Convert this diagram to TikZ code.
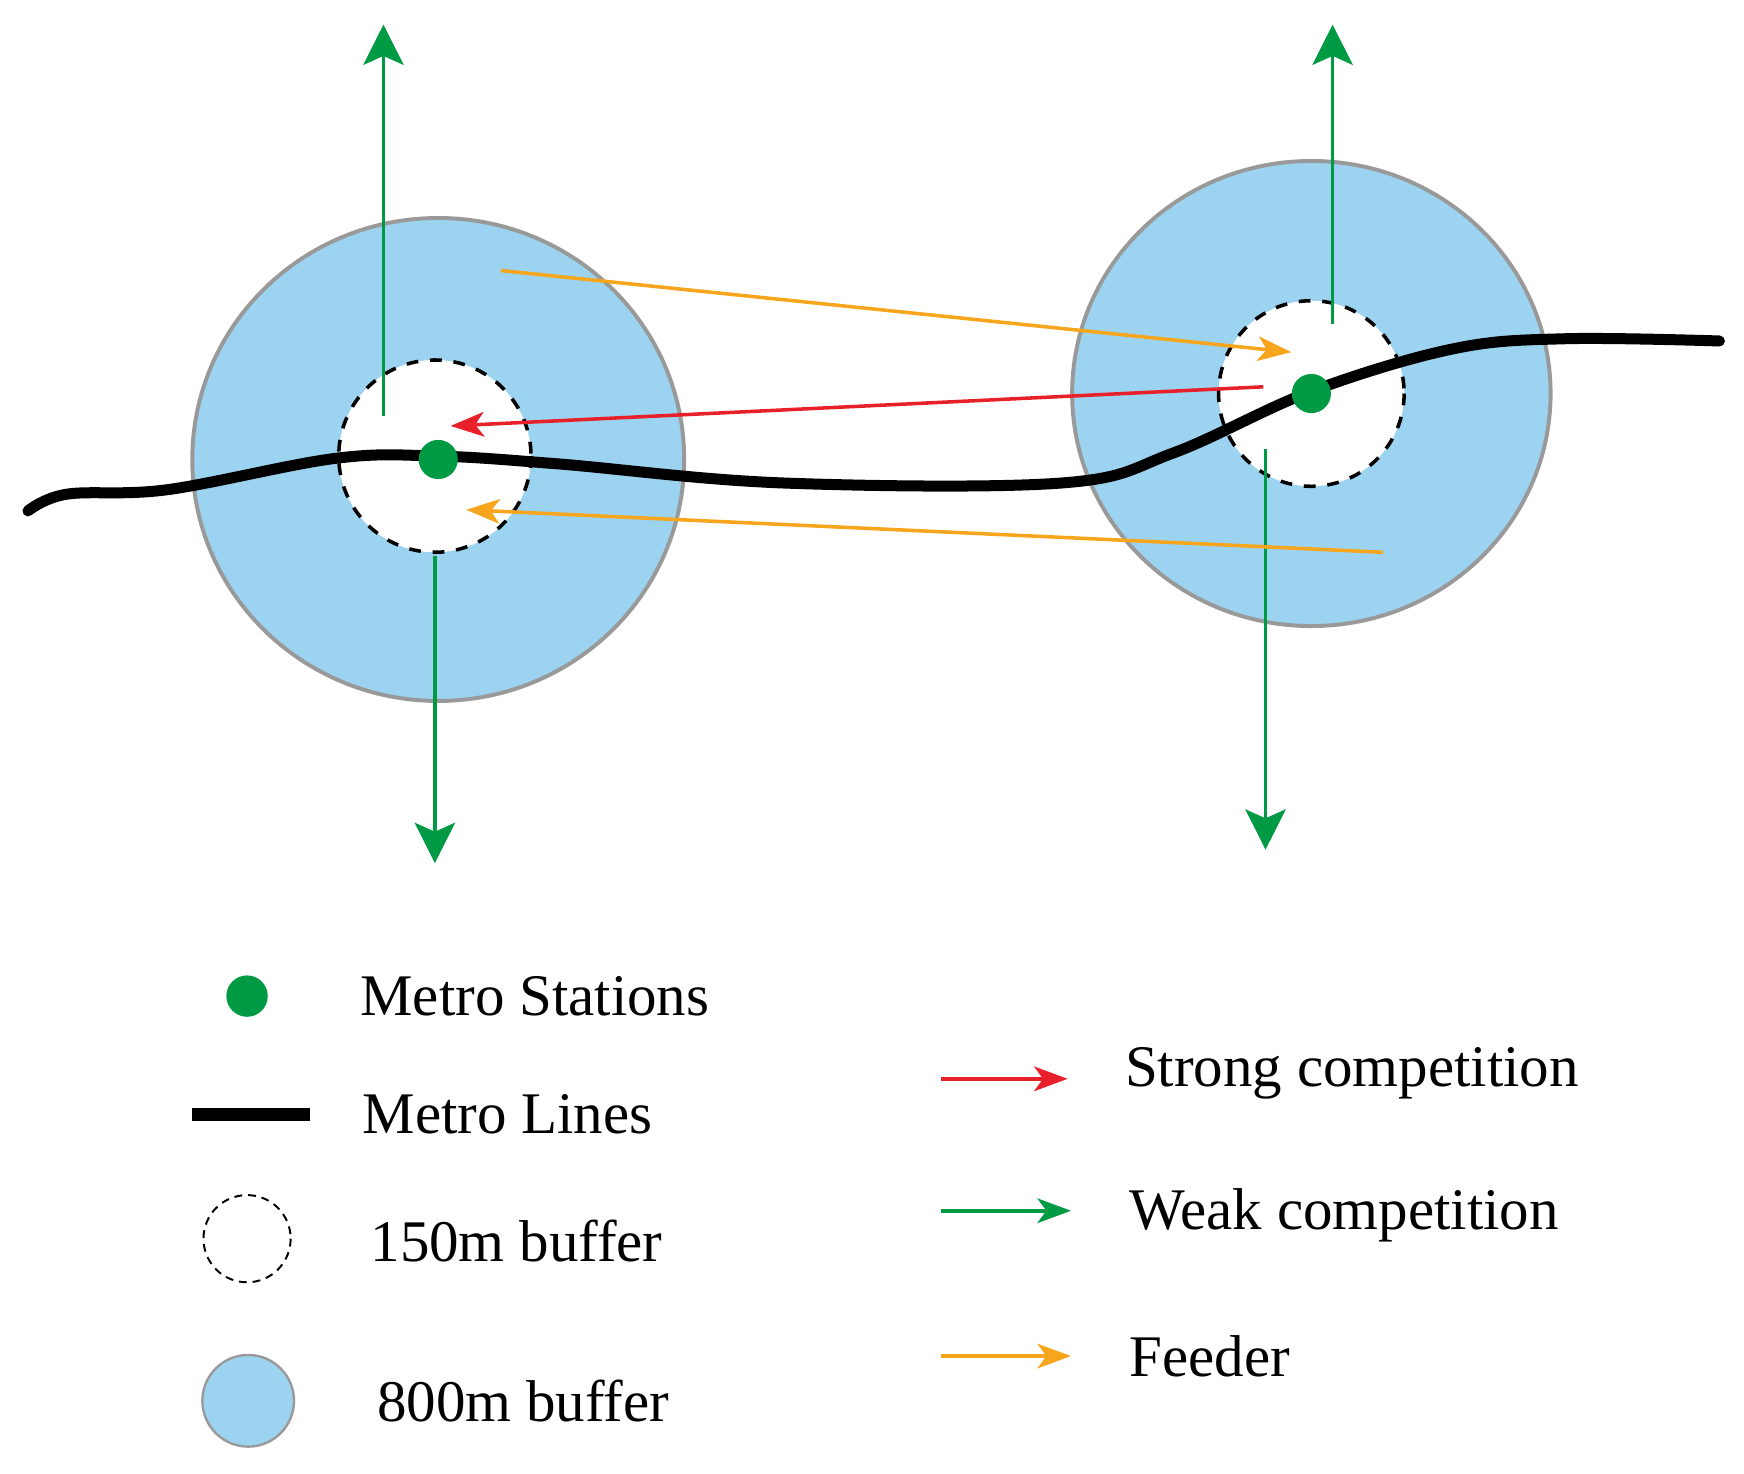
\documentclass[tikz,border=0pt]{standalone}
\usepackage{fontspec}
\setmainfont{Liberation Serif}
\usetikzlibrary{arrows.meta}
\definecolor{bufblue}{HTML}{9BD3F0}
\definecolor{mgreen}{HTML}{009A44}
\definecolor{morange}{HTML}{F7A51C}
\definecolor{mred}{HTML}{E8202A}
\begin{document}
\begin{tikzpicture}[x=0.01cm,y=-0.01cm,
  big/.style={draw=gray!80,line width=1pt,fill=bufblue},
  small/.style={draw=black,dashed,line width=0.9pt,fill=white},
  station/.style={circle,fill=mgreen,inner sep=0pt,minimum size=0.35cm},
  weak/.style={draw=mgreen,line width=0.9pt,-{Stealth[length=0.36cm,width=0.36cm,inset=0.08cm]}},
  strong/.style={draw=mred,line width=0.9pt,-{Stealth[length=0.3cm,width=0.22cm,inset=0.08cm]}},
  feeder/.style={draw=morange,line width=0.9pt,-{Stealth[length=0.3cm,width=0.22cm,inset=0.08cm]}},
  lab/.style={anchor=west,font=\fontsize{15pt}{15pt}\selectfont}]
\useasboundingbox (0,0) rectangle (1560,1318);
% buffers
\draw[big] (392,411) ellipse [x radius=220,y radius=216];
\draw[big] (1173,352) ellipse [x radius=214,y radius=208];
\draw[small] (389,408) circle [radius=86];
\draw[small] (1173,352) circle [radius=83];
% metro line
\draw[line width=2.8pt,line cap=round] plot[smooth,tension=0.6] coordinates {(25,457) (60,442) (150,438) (300,410) (392,408) (500,415) (700,432) (950,432) (1050,405) (1173,350) (1300,312) (1400,303) (1538,305)};
\node[station] (s1) at (392,411) {};
\node[station] (s2) at (1173,352) {};
% arrows
\coordinate (a1) at (343,372); \coordinate (a2) at (343,22);
\coordinate (b1) at (389,497); \coordinate (b2) at (389,772);
\coordinate (c1) at (1192,290); \coordinate (c2) at (1192,22);
\coordinate (d1) at (1132,402); \coordinate (d2) at (1132,760);
\draw[weak] (a1) -- (a2);
\draw[weak] (b1) -- (b2);
\draw[weak] (c1) -- (c2);
\draw[weak] (d1) -- (d2);
\coordinate (e1) at (448,242); \coordinate (e2) at (1155,315);
\coordinate (f1) at (1237,494); \coordinate (f2) at (417,456);
\coordinate (g1) at (1130,346); \coordinate (g2) at (403,381);
\draw[feeder] (e1) -- (e2);
\draw[feeder] (f1) -- (f2);
\draw[strong] (g1) -- (g2);
% legend
\node[station,minimum size=0.37cm] (ls) at (221,891) {};
\node[lab] (ts) at (310,891) {Metro Stations};
\coordinate (l1) at (172,997); \coordinate (l2) at (277,997);
\draw[line width=3.3pt] (l1) -- (l2);
\node[lab] (tl) at (312,997) {Metro Lines};
\draw[black,dashed,line width=0.5pt,dash pattern=on 2pt off 1.5pt] (221,1108) circle [radius=39];
\node[lab] (t150) at (319,1110) {150m buffer};
\draw[big,line width=0.6pt] (222,1253) circle [radius=41];
\node[lab] (t800) at (325,1253) {800m buffer};
\coordinate (r1) at (842,965); \coordinate (r2) at (955,965);
\draw[strong] (r1) -- (r2);
\node[lab] (tr) at (994,960) {Strong competition};
\coordinate (w1) at (842,1083); \coordinate (w2) at (958,1083);
\draw[weak,-{Stealth[length=0.3cm,width=0.22cm,inset=0.08cm]}] (w1) -- (w2);
\node[lab] (tw) at (998,1087) {Weak competition};
\coordinate (o1) at (842,1213); \coordinate (o2) at (958,1213);
\draw[feeder] (o1) -- (o2);
\node[lab] (to) at (998,1213) {Feeder};
\end{tikzpicture}
\end{document}
